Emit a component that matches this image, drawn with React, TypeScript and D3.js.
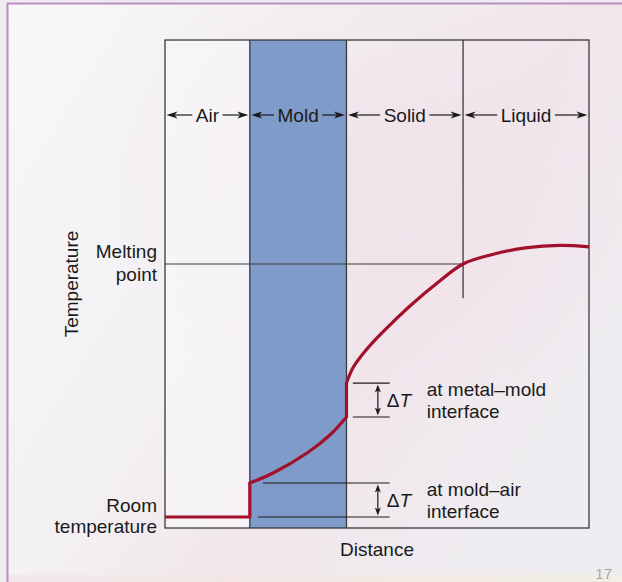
import React, { useEffect, useRef } from "react";
import * as d3 from "d3";

const W = 622;
const H = 582;

// Regions along the distance axis (0..100)
const regionNames = ["Air", "Mold", "Solid", "Liquid"];
const regionBounds = [0, 20, 42.8, 70.3, 100];

// Temperatures (0..100 relative scale)
const meltingPoint = 54.1;
const meltLineEnd = 70.3;
const dividerBottomT = 47.1;

const airSegment: [number, number][] = [
  [0, 2.25],
  [20, 2.25],
];
const moldCurve: [number, number][] = [
  [20, 9.22],
  [25.5, 11.27],
  [33.5, 15.37],
  [38.9, 19.06],
  [42.8, 22.75],
];
const solidLiquidCurve: [number, number][] = [
  [42.8, 29.7],
  [44.3, 32.8],
  [46.5, 35.5],
  [49.5, 38.5],
  [53.5, 42.0],
  [58.3, 45.9],
  [64.2, 50.2],
  [70.3, 54.1],
  [77.0, 56.0],
  [85.0, 57.4],
  [93.2, 57.9],
  [100, 57.6],
];

// ΔT annotations
const deltaAnnotations = [
  { top: 29.7, bottom: 22.75, x0Top: 44.3, x0Bottom: 44.3, lines: ["at metal\u2013mold", "interface"] },
  { top: 9.22, bottom: 2.25, x0Top: 23.1, x0Bottom: 21.9, lines: ["at mold\u2013air", "interface"] },
];
const deltaLineEnd = 53;
const deltaArrowX = 50.2;

const yAxisLabel = "Temperature";
const xAxisLabel = "Distance";
const meltingLabel = ["Melting", "point"];
const roomLabel = ["Room", "temperature"];
const pageNumber = "17";

const FONT = "'Liberation Sans', Arial, Helvetica, sans-serif";

export default function App() {
  const ref = useRef<SVGSVGElement | null>(null);

  useEffect(() => {
    const svg = d3.select(ref.current);
    svg.selectAll("*").remove();

    const x = d3.scaleLinear().domain([0, 100]).range([165, 589]);
    const y = d3.scaleLinear().domain([0, 100]).range([528, 40]);

    // ---------- background ----------
    const defs = svg.append("defs");
    const g1 = defs
      .append("linearGradient")
      .attr("id", "bg")
      .attr("x1", "0")
      .attr("y1", "0")
      .attr("x2", "1")
      .attr("y2", "0.6");
    g1.append("stop").attr("offset", "0").attr("stop-color", "#f7f6f8");
    g1.append("stop").attr("offset", "0.45").attr("stop-color", "#f3f1f4");
    g1.append("stop").attr("offset", "0.7").attr("stop-color", "#f1e6ec");
    g1.append("stop").attr("offset", "1").attr("stop-color", "#efedf1");
    const g2 = defs
      .append("radialGradient")
      .attr("id", "pink")
      .attr("cx", "0.6")
      .attr("cy", "0.3")
      .attr("r", "0.45");
    g2.append("stop").attr("offset", "0").attr("stop-color", "#f0e0e8").attr("stop-opacity", 0.8);
    g2.append("stop").attr("offset", "1").attr("stop-color", "#f0e0e8").attr("stop-opacity", 0);
    const g3 = defs
      .append("linearGradient")
      .attr("id", "bottomband")
      .attr("x1", "0")
      .attr("y1", "0")
      .attr("x2", "1")
      .attr("y2", "0");
    g3.append("stop").attr("offset", "0").attr("stop-color", "#f3dfe4");
    g3.append("stop").attr("offset", "1").attr("stop-color", "#f6f0d8");

    svg.append("rect").attr("width", W).attr("height", H).attr("fill", "#eeecf1");
    svg.append("rect").attr("x", 8).attr("y", 4).attr("width", W - 8).attr("height", H - 4).attr("fill", "url(#bg)");
    svg.append("rect").attr("x", 8).attr("y", 4).attr("width", W - 8).attr("height", H - 4).attr("fill", "url(#pink)");
    svg.append("rect").attr("x", 8).attr("y", 575).attr("width", W - 8).attr("height", 7).attr("fill", "url(#bottomband)").attr("opacity", 0.55);
    svg.append("line").attr("x1", 7).attr("x2", W).attr("y1", 3.5).attr("y2", 3.5).attr("stroke", "#b98cc6").attr("stroke-width", 2);
    svg.append("line").attr("x1", 7.5).attr("x2", 7.5).attr("y1", 3).attr("y2", H).attr("stroke", "#b98cc6").attr("stroke-width", 2);

    // ---------- regions ----------
    svg
      .append("rect")
      .attr("x", x(0))
      .attr("y", y(100))
      .attr("width", x(regionBounds[1]) - x(0))
      .attr("height", y(0) - y(100))
      .attr("fill", "#f8f7f9")
      .attr("opacity", 0.7);
    svg
      .append("rect")
      .attr("x", x(regionBounds[1]))
      .attr("y", y(100))
      .attr("width", x(regionBounds[2]) - x(regionBounds[1]))
      .attr("height", y(0) - y(100))
      .attr("fill", "#7f9bca");

    const lineColor = "#3a3a3e";
    svg
      .append("rect")
      .attr("x", x(0))
      .attr("y", y(100))
      .attr("width", x(100) - x(0))
      .attr("height", y(0) - y(100))
      .attr("fill", "none")
      .attr("stroke", lineColor)
      .attr("stroke-width", 1.3);
    [regionBounds[1], regionBounds[2]].forEach((b) => {
      svg
        .append("line")
        .attr("x1", x(b))
        .attr("x2", x(b))
        .attr("y1", y(100))
        .attr("y2", y(0))
        .attr("stroke", lineColor)
        .attr("stroke-width", 1.3);
    });
    svg
      .append("line")
      .attr("x1", x(regionBounds[3]))
      .attr("x2", x(regionBounds[3]))
      .attr("y1", y(100))
      .attr("y2", y(dividerBottomT))
      .attr("stroke", lineColor)
      .attr("stroke-width", 1.3);
    svg
      .append("line")
      .attr("x1", x(0))
      .attr("x2", x(meltLineEnd))
      .attr("y1", y(meltingPoint))
      .attr("y2", y(meltingPoint))
      .attr("stroke", lineColor)
      .attr("stroke-width", 1.2);

    // ---------- region labels with arrows ----------
    const labelY = 115;
    const arrowHead = (tipX: number, yy: number, dir: number) =>
      `M${tipX},${yy}L${tipX + dir * 11},${yy - 3.6}L${tipX + dir * 8},${yy}L${tipX + dir * 11},${yy + 3.6}Z`;
    regionNames.forEach((name, i) => {
      const x0 = x(regionBounds[i]);
      const x1 = x(regionBounds[i + 1]);
      const cx = (x0 + x1) / 2;
      const t = svg
        .append("text")
        .attr("x", cx)
        .attr("y", labelY + 7)
        .attr("text-anchor", "middle")
        .attr("font-family", FONT)
        .attr("font-size", 19)
        .attr("fill", "#1a1a1a")
        .text(name);
      const w = (t.node() as SVGTextElement).getComputedTextLength();
      const tl = cx - w / 2 - 3.5;
      const tr = cx + w / 2 + 3.5;
      const a0 = x0 + 1.5;
      const a1 = x1 - 1.5;
      svg.append("line").attr("x1", a0 + 6).attr("x2", tl).attr("y1", labelY).attr("y2", labelY).attr("stroke", "#1a1a1a").attr("stroke-width", 1.2);
      svg.append("line").attr("x1", tr).attr("x2", a1 - 6).attr("y1", labelY).attr("y2", labelY).attr("stroke", "#1a1a1a").attr("stroke-width", 1.2);
      svg.append("path").attr("d", arrowHead(a0, labelY, 1)).attr("fill", "#1a1a1a");
      svg.append("path").attr("d", arrowHead(a1, labelY, -1)).attr("fill", "#1a1a1a");
    });

    // ---------- ΔT annotations ----------
    deltaAnnotations.forEach((a) => {
      const yt = y(a.top);
      const yb = y(a.bottom);
      svg.append("line").attr("x1", x(a.x0Top)).attr("x2", x(deltaLineEnd)).attr("y1", yt).attr("y2", yt).attr("stroke", "#1a1a1a").attr("stroke-width", 1.2);
      svg.append("line").attr("x1", x(a.x0Bottom)).attr("x2", x(deltaLineEnd)).attr("y1", yb).attr("y2", yb).attr("stroke", "#1a1a1a").attr("stroke-width", 1.2);
      const ax = x(deltaArrowX);
      const t0 = yt + 1.5;
      const t1 = yb - 1.5;
      svg.append("line").attr("x1", ax).attr("x2", ax).attr("y1", t0 + 5).attr("y2", t1 - 5).attr("stroke", "#1a1a1a").attr("stroke-width", 1.2);
      svg.append("path").attr("d", `M${ax},${t0}L${ax - 3},${t0 + 8}L${ax},${t0 + 6}L${ax + 3},${t0 + 8}Z`).attr("fill", "#1a1a1a");
      svg.append("path").attr("d", `M${ax},${t1}L${ax - 3},${t1 - 8}L${ax},${t1 - 6}L${ax + 3},${t1 - 8}Z`).attr("fill", "#1a1a1a");
      const mid = (yt + yb) / 2;
      const dt = svg
        .append("text")
        .attr("x", ax + 9)
        .attr("y", mid + 7)
        .attr("font-family", FONT)
        .attr("font-size", 19)
        .attr("fill", "#1a1a1a");
      dt.append("tspan").text("\u0394");
      dt.append("tspan").attr("font-style", "italic").text("T");
      const tx = x(deltaLineEnd) + 37;
      const lbl = svg
        .append("text")
        .attr("font-family", FONT)
        .attr("font-size", 19)
        .attr("fill", "#1a1a1a");
      lbl.append("tspan").attr("x", tx).attr("y", mid - 4).text(a.lines[0]);
      lbl.append("tspan").attr("x", tx).attr("y", mid + 18).text(a.lines[1]);
    });

    // ---------- temperature curve ----------
    const linear = d3
      .line<[number, number]>()
      .x((d) => x(d[0]))
      .y((d) => y(d[1]));
    const smooth = d3
      .line<[number, number]>()
      .x((d) => x(d[0]))
      .y((d) => y(d[1]))
      .curve(d3.curveCatmullRom.alpha(0.5));
    const p1 = linear(airSegment) as string;
    const p2 = (smooth(moldCurve) as string).replace(/^M/, "L");
    const p3 = (smooth(solidLiquidCurve) as string).replace(/^M/, "L");
    svg
      .append("path")
      .attr("d", p1 + p2 + p3)
      .attr("fill", "none")
      .attr("stroke", "#a3102c")
      .attr("stroke-width", 3.2)
      .attr("stroke-linejoin", "miter");

    // ---------- axis labels ----------
    const txt = (s: string, xx: number, yy: number, anchor: string) =>
      svg
        .append("text")
        .attr("x", xx)
        .attr("y", yy)
        .attr("text-anchor", anchor)
        .attr("font-family", FONT)
        .attr("font-size", 19)
        .attr("fill", "#1a1a1a")
        .text(s);
    txt(meltingLabel[0], 157, 258, "end");
    txt(meltingLabel[1], 157, 281, "end");
    txt(roomLabel[0], 157, 512, "end");
    txt(roomLabel[1], 157, 533, "end");
    txt(xAxisLabel, (x(0) + x(100)) / 2, 556, "middle");
    svg
      .append("text")
      .attr("transform", `translate(78,${(y(0) + y(100)) / 2}) rotate(-90)`)
      .attr("text-anchor", "middle")
      .attr("font-family", FONT)
      .attr("font-size", 19)
      .attr("fill", "#1a1a1a")
      .text(yAxisLabel);
    svg
      .append("text")
      .attr("x", 612)
      .attr("y", 579)
      .attr("text-anchor", "end")
      .attr("font-family", FONT)
      .attr("font-size", 15)
      .attr("fill", "#a8a6a8")
      .text(pageNumber);
  }, []);

  return (
    <svg
      ref={ref}
      width={W}
      height={H}
      style={{ position: "absolute", left: 0, top: 0, display: "block" }}
    />
  );
}
